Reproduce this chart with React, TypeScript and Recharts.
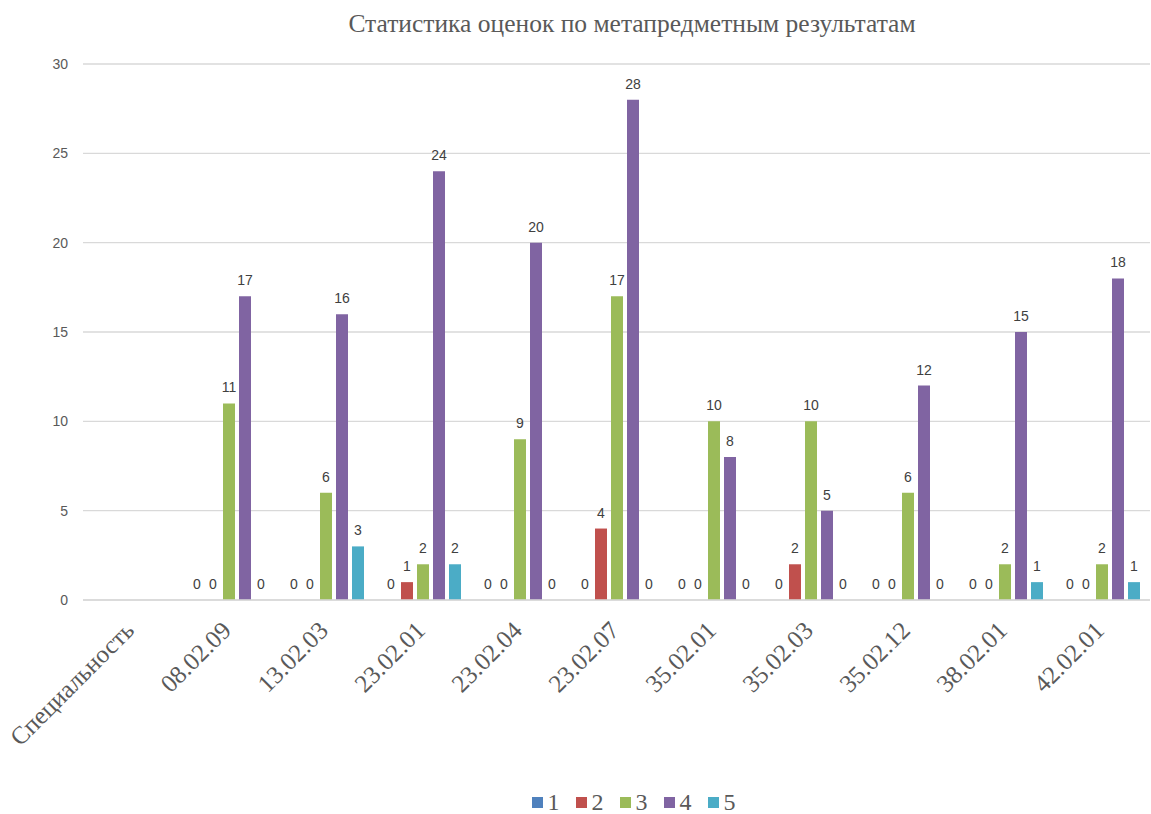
import React from "react";
import { BarChart, Bar, XAxis, YAxis, CartesianGrid, Legend, LabelList } from "recharts";

const categories = [
  "Специальность",
  "08.02.09",
  "13.02.03",
  "23.02.01",
  "23.02.04",
  "23.02.07",
  "35.02.01",
  "35.02.03",
  "35.02.12",
  "38.02.01",
  "42.02.01",
];

const grade1 = [null, 0, 0, 0, 0, 0, 0, 0, 0, 0, 0];
const grade2 = [null, 0, 0, 1, 0, 4, 0, 2, 0, 0, 0];
const grade3 = [null, 11, 6, 2, 9, 17, 10, 10, 6, 2, 2];
const grade4 = [null, 17, 16, 24, 20, 28, 8, 5, 12, 15, 18];
const grade5 = [null, 0, 3, 2, 0, 0, 0, 0, 0, 1, 1];

const yTicks = [0, 5, 10, 15, 20, 25, 30];

const series = [
  { key: "g1", name: "1", values: grade1, color: "#4F81BD" },
  { key: "g2", name: "2", values: grade2, color: "#C0504D" },
  { key: "g3", name: "3", values: grade3, color: "#9BBB59" },
  { key: "g4", name: "4", values: grade4, color: "#8064A2" },
  { key: "g5", name: "5", values: grade5, color: "#4BACC6" },
];

const data = categories.map((name, i) => {
  const row: Record<string, any> = { name };
  series.forEach((s) => {
    row[s.key] = s.values[i];
  });
  return row;
});

const serif = "'Liberation Serif', 'Times New Roman', serif";
const sans = "'Liberation Sans', Arial, sans-serif";

// zero bars get a hair of height so the "0" labels still show up
const zeroSize = (v: any) => (v === 0 ? 0.01 : 0);

const XTick = (props: any) => {
  const { x, y, payload } = props;
  const ex = x + 4;
  const ey = y + 32;
  return (
    <text
      x={ex}
      y={ey}
      transform={`rotate(-45, ${ex}, ${ey})`}
      textAnchor="end"
      fill="#595959"
      fontFamily={serif}
      fontSize={25}
    >
      {payload.value}
    </text>
  );
};

const renderLabel = (props: any) => {
  const { x, y, width, value } = props;
  if (value === null || value === undefined) return null;
  return (
    <text
      x={x + width / 2}
      y={y - 11}
      textAnchor="middle"
      fill="#404040"
      fontFamily={sans}
      fontSize={14}
    >
      {value}
    </text>
  );
};

const renderLegend = () => (
  <div
    style={{
      display: "flex",
      justifyContent: "center",
      alignItems: "center",
      height: 24,
      paddingLeft: 133,
      fontFamily: serif,
      fontSize: 24,
      color: "#595959",
    }}
  >
    {series.map((s) => (
      <div key={s.key} style={{ display: "flex", alignItems: "center", marginRight: 16 }}>
        <span style={{ width: 11, height: 11, background: s.color, display: "inline-block", marginRight: 5 }} />
        <span style={{ lineHeight: "24px" }}>{s.name}</span>
      </div>
    ))}
  </div>
);

export default function App() {
  return (
    <div style={{ position: "absolute", left: 0, top: 0, width: 1151, height: 814, background: "#fff" }}>
      <div
        style={{
          position: "absolute",
          top: 9,
          left: 0,
          width: 1264,
          textAlign: "center",
          fontFamily: serif,
          fontSize: 25.5,
          color: "#595959",
        }}
      >
        Статистика оценок по метапредметным результатам
      </div>
      <BarChart
        width={1151}
        height={814}
        data={data}
        margin={{ top: 64, right: 1, left: 0, bottom: 0 }}
        barSize={12}
        barGap={4}
      >
        <CartesianGrid vertical={false} stroke="#d9d9d9" strokeWidth={1.3} />
        <XAxis
          dataKey="name"
          height={190}
          interval={0}
          tickSize={0}
          tickMargin={0}
          tick={<XTick />}
          axisLine={{ stroke: "#d9d9d9", strokeWidth: 1.5 }}
          tickLine={false}
        />
        <YAxis
          width={83}
          domain={[0, 30]}
          ticks={yTicks}
          axisLine={false}
          tickLine={false}
          tickSize={0}
          tickMargin={15}
          tick={{ fill: "#595959", fontFamily: sans, fontSize: 14 }}
        />
        <Legend verticalAlign="bottom" content={renderLegend} />
        {series.map((s) => (
          <Bar
            key={s.key}
            dataKey={s.key}
            name={s.name}
            fill={s.color}
            minPointSize={zeroSize}
            isAnimationActive={false}
          >
            <LabelList dataKey={s.key} content={renderLabel} />
          </Bar>
        ))}
      </BarChart>
    </div>
  );
}
